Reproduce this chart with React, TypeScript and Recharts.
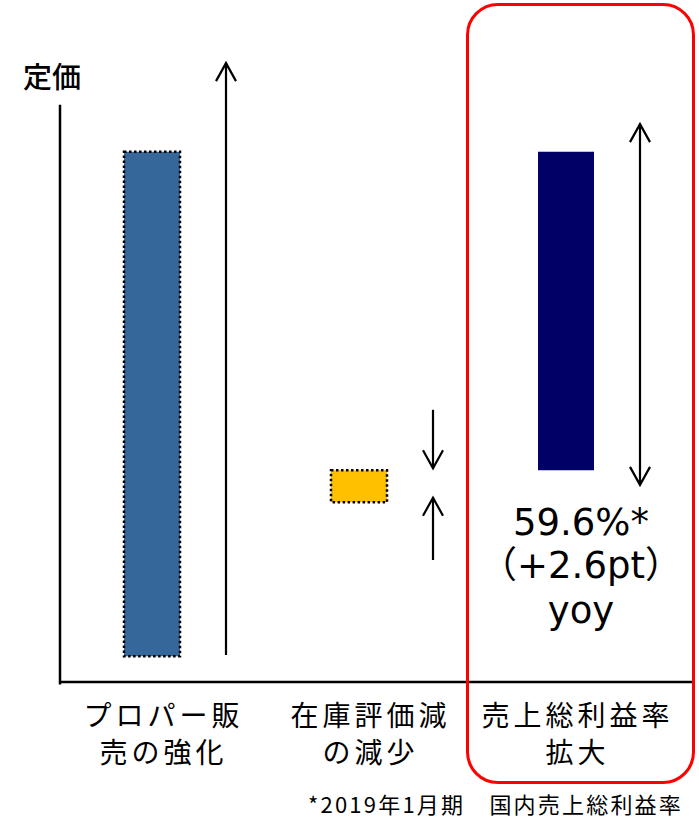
import React from 'react';
import { ComposedChart, Bar, XAxis, YAxis, Cell, ReferenceLine, LabelList, Label } from 'recharts';

// ---- data ----
const categories = ['プロパー販売の強化', '在庫評価減の減少', '売上総利益率拡大'];
const categoryLine1 = ['プロパー販', '在庫評価減', '売上総利益率'];
const categoryLine2 = ['売の強化', 'の減少', '拡大'];
const barLow = [4.0, 28.0, 33.0];
const barHigh = [82.6, 33.0, 82.6];
const barColors = ['#35679A', '#FFC000', '#000066'];
const barDotted = [true, true, false];
const arrowLow = [4.2, 19.0, 30.7];
const arrowHigh = [96.4, 42.4, 86.9];
const arrowKinds = ['up', 'converge', 'both'];
const arrowGapLow: (number | null)[] = [null, 28.7, null];
const arrowGapHigh: (number | null)[] = [null, 33.3, null];
const noteLines: string[][] = [[], [], ['59.6%*', '（+2.6pt）', 'yoy']];
const valueDomain = [0, 100];
const axisTopValue = 89.9;
const axisBottomValue = -0.4;
const axisLabel = '定価';
const footnote = '*2019年1月期　国内売上総利益率';

const data = categories.map((c, i) => ({
  category: c,
  range: [barLow[i], barHigh[i]],
  arrow: [arrowLow[i], arrowHigh[i]],
  kind: arrowKinds[i],
  gapLow: arrowGapLow[i],
  gapHigh: arrowGapHigh[i],
}));

const JP = '"Noto Sans CJK JP", "Noto Sans", sans-serif';
const HEAD_L = 18;
const HEAD_W = 10;

const head = (cx: number, tip: number, dir: 1 | -1, key: string) => (
  <path
    key={key}
    d={`M${cx - HEAD_W},${tip + dir * HEAD_L} L${cx},${tip} L${cx + HEAD_W},${tip + dir * HEAD_L}`}
    fill="none"
    stroke="#000"
    strokeWidth={2.2}
  />
);

const ArrowShape = (props: any) => {
  const { x, y, width, height, index } = props;
  const p = props.payload || data[index];
  const cx = x + width / 2;
  const top = Math.min(y, y + height);
  const bottom = Math.max(y, y + height);
  const [lo, hi] = p.arrow;
  const ppu = (bottom - top) / (hi - lo);
  const toPx = (v: number) => bottom - (v - lo) * ppu;
  const s = { stroke: '#000', strokeWidth: 2.2 };
  if (p.kind === 'up') {
    return (
      <g>
        <line x1={cx} y1={bottom} x2={cx} y2={top} {...s} />
        {head(cx, top, 1, 'h')}
      </g>
    );
  }
  if (p.kind === 'both') {
    return (
      <g>
        <line x1={cx} y1={bottom} x2={cx} y2={top} {...s} />
        {head(cx, top, 1, 'h1')}
        {head(cx, bottom, -1, 'h2')}
      </g>
    );
  }
  const gTop = toPx(p.gapHigh);
  const gBot = toPx(p.gapLow);
  return (
    <g>
      <line x1={cx} y1={top} x2={cx} y2={gTop} {...s} />
      {head(cx, gTop, -1, 'h1')}
      <line x1={cx} y1={bottom} x2={cx} y2={gBot} {...s} />
      {head(cx, gBot, 1, 'h2')}
    </g>
  );
};

const NoteLabel = (props: any) => {
  const { x, y, width, height, index } = props;
  const lines = noteLines[index] || [];
  if (!lines.length) return null;
  const cx = x + width / 2 + 15;
  const bottom = Math.max(y, y + height);
  const offs = [65, 108, 153];
  return (
    <g>
      {lines.map((t, k) => (
        <text
          key={k}
          x={cx}
          y={bottom + offs[k]}
          textAnchor="middle"
          fontSize={37}
          fontFamily={'"DejaVu Sans", "Noto Sans CJK JP", sans-serif'}
          fill="#000"
        >
          {t}
        </text>
      ))}
    </g>
  );
};

const CategoryTick = (props: any) => {
  const { x, y, payload } = props;
  const i = categories.indexOf(payload.value);
  const common = {
    textAnchor: 'middle' as const,
    fontSize: 28,
    letterSpacing: 4,
    fontFamily: JP,
    fill: '#000',
  };
  return (
    <g>
      <text x={x - 12} y={y + 44} {...common}>{categoryLine1[i]}</text>
      <text x={x - 12} y={y + 81} {...common}>{categoryLine2[i]}</text>
    </g>
  );
};

const AxisTitle = (props: any) => {
  const vb = props.viewBox || {};
  return (
    <text
      x={vb.x - 8}
      y={vb.y - 17}
      textAnchor="middle"
      fontSize={29}
      fontWeight={500}
      fontFamily={JP}
      fill="#000"
    >
      {axisLabel}
    </text>
  );
};

const Footnote = (props: any) => {
  const vb = props.viewBox || {};
  return (
    <text
      x={vb.x + vb.width - 10}
      y={vb.y + 131}
      textAnchor="end"
      fontSize={22}
      letterSpacing={2.2}
      fontFamily={JP}
      fill="#000"
    >
      {footnote}
    </text>
  );
};

export default function App() {
  return (
    <div
      style={{
        position: 'absolute',
        left: 0,
        top: 0,
        width: 699,
        height: 818,
        background: '#fff',
        overflow: 'hidden',
        fontFamily: JP,
      }}
    >
      <ComposedChart
        width={699}
        height={818}
        data={data}
        margin={{ top: 40, right: 6, left: 60, bottom: 0 }}
        barGap={44}
      >
        <XAxis
          dataKey="category"
          height={136}
          interval={0}
          padding={{ left: 12, right: 0 }}
          tickLine={false}
          tickSize={0}
          tickMargin={0}
          axisLine={{ stroke: '#000', strokeWidth: 2.5 }}
          tick={<CategoryTick />}
        >
          <Label content={<Footnote />} />
        </XAxis>
        <XAxis xAxisId="frame" type="number" domain={[0, 1]} hide />
        <YAxis type="number" domain={valueDomain} hide />
        <ReferenceLine
          xAxisId="frame"
          ifOverflow="visible"
          segment={[
            { x: 0, y: axisTopValue },
            { x: 0, y: axisBottomValue },
          ]}
          stroke="#000"
          strokeWidth={2.5}
        >
          <Label content={<AxisTitle />} />
        </ReferenceLine>
        <Bar dataKey="range" barSize={56} isAnimationActive={false}>
          {data.map((d, i) => (
            <Cell
              key={i}
              fill={barColors[i]}
              stroke={barDotted[i] ? '#000' : 'none'}
              strokeWidth={barDotted[i] ? 2.5 : 0}
              strokeDasharray={barDotted[i] ? '2.5 2.5' : undefined}
            />
          ))}
          <LabelList dataKey="category" content={<NoteLabel />} />
        </Bar>
        <Bar dataKey="arrow" barSize={4} shape={<ArrowShape />} isAnimationActive={false} />
      </ComposedChart>
      <div
        style={{
          position: 'absolute',
          left: 466,
          top: 3,
          width: 229,
          height: 781,
          border: '3px solid #FF0000',
          borderRadius: 32,
          boxSizing: 'border-box',
          pointerEvents: 'none',
        }}
      />
    </div>
  );
}
